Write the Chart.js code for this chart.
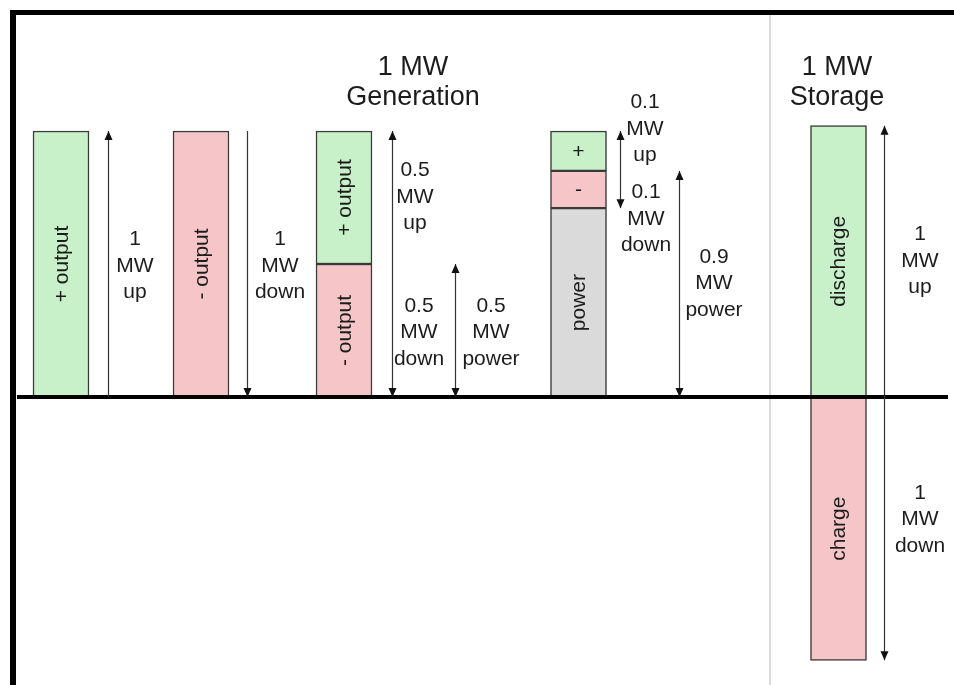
<!DOCTYPE html>
<html>
<head>
<meta charset="utf-8">
<title>1 MW Generation vs 1 MW Storage</title>
<script src="https://cdn.jsdelivr.net/npm/chart.js@4.4.1/dist/chart.umd.min.js"></script>
<style>
  html, body { margin: 0; padding: 0; background: #fff; }
  #chart { display: block; }
</style>
</head>
<body>
<canvas id="chart" width="954" height="685"></canvas>
<script>
"use strict";

// where each column sits on the hidden x axis
const columnPos = [0.61, 2.01, 3.44, 5.785, 8.385];

// MW in each column, stacked bottom to top: power, down, up
const powerMW = [null, null, null, 0.71, null];
const downMW = [null, 1.0, 0.5, 0.14, -0.99];
const upMW = [1.0, null, 0.5, 0.15, 1.02];

// words written inside the segments
const powerText = [null, null, null, "power", null];
const downText = [null, "- output", "- output", "-", "charge"];
const upText = ["+ output", null, "+ output", "+", "discharge"];

// arrows next to the columns
const arrowX = [1.08, 2.47, 3.92, 4.55, 6.20, 6.79, 8.84];
const arrowLow = [0, 0, 0, 0, 0.71, 0, -0.99];
const arrowHigh = [1.0, 1.0, 1.0, 0.5, 1.0, 0.85, 1.02];
const arrowHeads = ["up", "down", "both", "both", "both", "both", "both"];

// notes beside the arrows
const noteX = [1.35, 2.80, 4.15, 4.19, 4.91, 6.45, 6.46, 7.14, 9.20, 9.20];
const noteY = [0.5, 0.5, 0.758, 0.25, 0.25, 1.015, 0.675, 0.434, 0.517, -0.453];
const noteText = [
  ["1", "MW", "up"],
  ["1", "MW", "down"],
  ["0.5", "MW", "up"],
  ["0.5", "MW", "down"],
  ["0.5", "MW", "power"],
  ["0.1", "MW", "up"],
  ["0.1", "MW", "down"],
  ["0.9", "MW", "power"],
  ["1", "MW", "up"],
  ["1", "MW", "down"]
];

// group headings
const headX = [4.13, 8.37];
const headY = 1.192;
const headText = [["1 MW", "Generation"], ["1 MW", "Storage"]];

const dividerX = 7.70;

const FONT = '"Liberation Sans", Arial, sans-serif';
const INK = "#1c1c1c";

function toPoints(values, texts) {
  let pts = [];
  for (let i = 0; i < columnPos.length; i++) {
    if (values[i] === null) continue;
    pts.push({ x: columnPos[i], y: values[i], text: texts[i] });
  }
  return pts;
}

function drawHead(ctx, x, y, dir) {
  // tip at (x, y); dir -1 points up, 1 points down
  ctx.beginPath();
  ctx.moveTo(x, y);
  ctx.lineTo(x - 4, y - dir * 9);
  ctx.lineTo(x + 4, y - dir * 9);
  ctx.closePath();
  ctx.fill();
}

function drawLines(ctx, lines, cx, cy, lh, capHalf) {
  let n = lines.length;
  for (let i = 0; i < n; i++) {
    let y = cy + (i - (n - 1) / 2) * lh + capHalf;
    ctx.fillText(lines[i], cx, y);
  }
}

const behindPlugin = {
  id: "behind",
  beforeDatasetsDraw(chart) {
    const ctx = chart.ctx;
    const xs = chart.scales.x;
    let px = xs.getPixelForValue(dividerX);
    ctx.save();
    ctx.strokeStyle = "#cfcfcf";
    ctx.lineWidth = 1.5;
    ctx.beginPath();
    ctx.moveTo(px, 15);
    ctx.lineTo(px, chart.height);
    ctx.stroke();
    ctx.restore();
  }
};

const overlayPlugin = {
  id: "overlay",
  afterDatasetsDraw(chart) {
    const ctx = chart.ctx;
    const xs = chart.scales.x;
    const ys = chart.scales.y;
    ctx.save();

    // zero line
    let y0 = ys.getPixelForValue(0);
    ctx.strokeStyle = "#000";
    ctx.lineWidth = 4;
    ctx.beginPath();
    ctx.moveTo(xs.getPixelForValue(0.17), y0);
    ctx.lineTo(xs.getPixelForValue(9.48), y0);
    ctx.stroke();

    // segment words
    ctx.fillStyle = INK;
    ctx.font = "21px " + FONT;
    ctx.textAlign = "center";
    ctx.textBaseline = "middle";
    chart.data.datasets.forEach(function (ds, d) {
      let meta = chart.getDatasetMeta(d);
      meta.data.forEach(function (el, i) {
        let text = ds.data[i].text;
        if (!text) return;
        ctx.save();
        ctx.translate(el.x, (el.y + el.base) / 2);
        if (text.length > 1) ctx.rotate(-Math.PI / 2);
        ctx.fillText(text, 0, 1);
        ctx.restore();
      });
    });

    // arrows
    ctx.strokeStyle = "#333";
    ctx.fillStyle = "#111";
    ctx.lineWidth = 1.2;
    for (let i = 0; i < arrowX.length; i++) {
      let x = Math.round(xs.getPixelForValue(arrowX[i])) + 0.5;
      let top = ys.getPixelForValue(arrowHigh[i]);
      let bot = ys.getPixelForValue(arrowLow[i]);
      ctx.beginPath();
      ctx.moveTo(x, top);
      ctx.lineTo(x, bot);
      ctx.stroke();
      if (arrowHeads[i] !== "down") drawHead(ctx, x, top, -1);
      if (arrowHeads[i] !== "up") drawHead(ctx, x, bot, 1);
    }

    // notes
    ctx.fillStyle = INK;
    ctx.font = "21px " + FONT;
    ctx.textBaseline = "alphabetic";
    for (let i = 0; i < noteX.length; i++) {
      drawLines(ctx, noteText[i], xs.getPixelForValue(noteX[i]), ys.getPixelForValue(noteY[i]), 26.5, 7.5);
    }

    // headings
    ctx.font = "27px " + FONT;
    for (let i = 0; i < headX.length; i++) {
      drawLines(ctx, headText[i], xs.getPixelForValue(headX[i]), ys.getPixelForValue(headY), 30, 9.7);
    }

    // frame
    ctx.fillStyle = "#000";
    ctx.fillRect(10, 10, chart.width - 10, 5);
    ctx.fillRect(10, 10, 6, chart.height - 10);
    ctx.restore();
  }
};

const ctx = document.getElementById("chart").getContext("2d");
new Chart(ctx, {
  type: "bar",
  data: {
    datasets: [
      { label: "power", data: toPoints(powerMW, powerText), backgroundColor: "#dadada" },
      { label: "down", data: toPoints(downMW, downText), backgroundColor: "#f6c5c7" },
      { label: "up", data: toPoints(upMW, upText), backgroundColor: "#c8f0c9" }
    ]
  },
  options: {
    responsive: false,
    animation: false,
    layout: { padding: 0 },
    datasets: {
      bar: {
        barThickness: 56,
        borderWidth: 1.5,
        borderColor: "#3a3a3a",
        borderSkipped: false
      }
    },
    plugins: {
      legend: { display: false },
      tooltip: { enabled: false }
    },
    scales: {
      x: { type: "linear", min: 0, max: 9.54, offset: false, stacked: true, display: false },
      y: { min: -1.0827, max: 1.4925, stacked: true, display: false }
    }
  },
  plugins: [behindPlugin, overlayPlugin]
});
</script>
</body>
</html>
